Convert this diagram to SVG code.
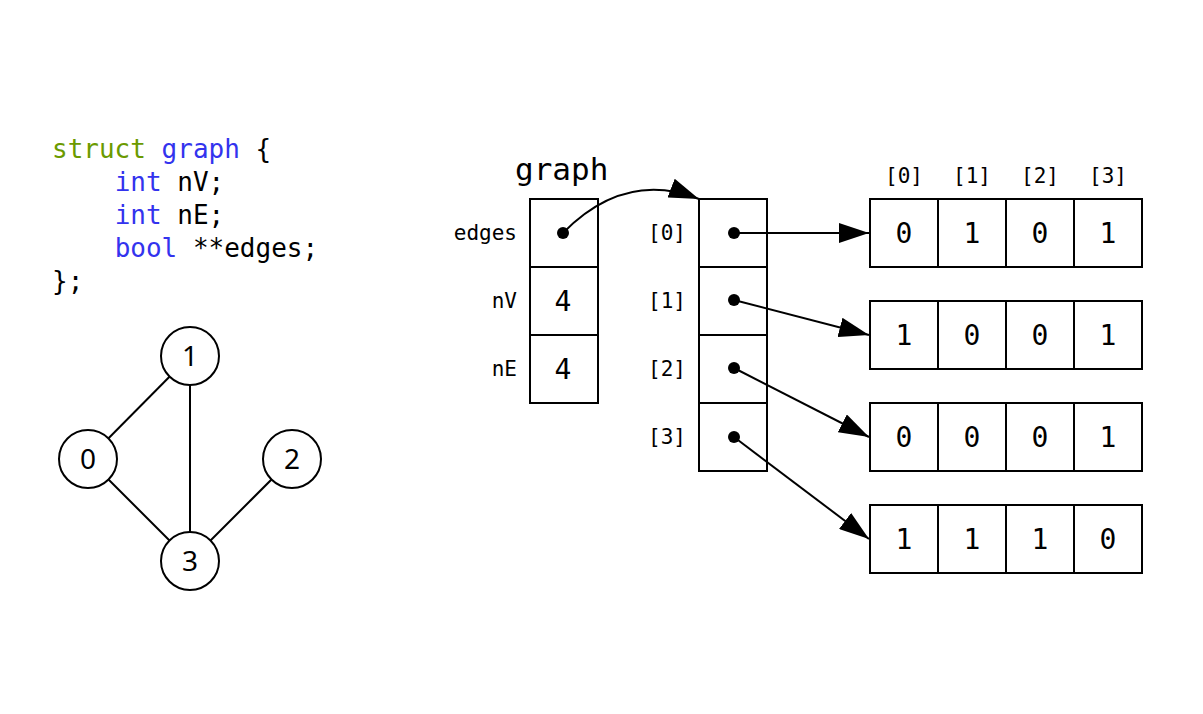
<svg xmlns="http://www.w3.org/2000/svg" width="1203" height="714" viewBox="0 0 1203 714">
<style>
text{font-family:"DejaVu Sans Mono","Liberation Mono",monospace;fill:#000}
.code{font-size:26px}
.kw1{fill:#6b9a00}.kw2{fill:#3333ee}
.lbl{font-size:21px;text-anchor:end}
.idx{font-size:21px;text-anchor:middle}
.val{font-size:28px;text-anchor:middle}
.cell{fill:#fff;stroke:#000;stroke-width:2}
.edge{stroke:#000;stroke-width:2;fill:none}
.node{fill:#fff;stroke:#000;stroke-width:2}
.nl{font-family:"Noto Sans","DejaVu Sans",sans-serif;font-size:28px;text-anchor:middle}
</style>
<defs><marker id="a2" viewBox="0 0 30 20" refX="30" refY="10" markerWidth="30" markerHeight="20" markerUnits="userSpaceOnUse" orient="auto"><path d="M0,0L30,10L0,20z"/></marker></defs>
<g id="code" class="code">
<text x="52" y="158"><tspan class="kw1">struct</tspan> <tspan class="kw2">graph</tspan> {</text>
<text x="52" y="191" xml:space="preserve">    <tspan class="kw2">int</tspan> nV;</text>
<text x="52" y="224" xml:space="preserve">    <tspan class="kw2">int</tspan> nE;</text>
<text x="52" y="257" xml:space="preserve">    <tspan class="kw2">bool</tspan> **edges;</text>
<text x="52" y="290">};</text>
</g>
<g id="g-edges">
<line class="edge" x1="190" y1="356" x2="88" y2="459"/><line class="edge" x1="190" y1="356" x2="190" y2="561"/>
<line class="edge" x1="88" y1="459" x2="190" y2="561"/><line class="edge" x1="292" y1="459" x2="190" y2="561"/>
</g>
<g id="n1"><circle class="node" cx="190" cy="356" r="29"/><text class="nl" x="190" y="366">1</text></g>
<g id="n0"><circle class="node" cx="88" cy="459" r="29"/><text class="nl" x="88" y="469">0</text></g>
<g id="n2"><circle class="node" cx="292" cy="459" r="29"/><text class="nl" x="292" y="469">2</text></g>
<g id="n3"><circle class="node" cx="190" cy="561" r="29"/><text class="nl" x="190" y="571">3</text></g>
<g id="struct">
<text x="515" y="180" style="font-size:31px">graph</text>
<rect class="cell" x="530" y="199" width="68" height="68"/><rect class="cell" x="530" y="267" width="68" height="68"/><rect class="cell" x="530" y="335" width="68" height="68"/>
<text class="lbl" x="517" y="240">edges</text><text class="lbl" x="517" y="308">nV</text><text class="lbl" x="517" y="376">nE</text>
<circle cx="563" cy="233" r="6"/>
<text class="val" x="563" y="311">4</text><text class="val" x="563" y="379">4</text>
</g>
<g id="ptrs">
<rect class="cell" x="699" y="199" width="68" height="68"/><rect class="cell" x="699" y="267" width="68" height="68"/><rect class="cell" x="699" y="335" width="68" height="68"/><rect class="cell" x="699" y="403" width="68" height="68"/>
<text class="lbl" x="686" y="240">[0]</text><text class="lbl" x="686" y="308">[1]</text><text class="lbl" x="686" y="376">[2]</text><text class="lbl" x="686" y="444">[3]</text>
<circle cx="734" cy="233" r="6"/><circle cx="734" cy="300" r="6"/><circle cx="734" cy="368" r="6"/><circle cx="734" cy="437" r="6"/>
</g>
<g id="cols">
<text class="idx" x="904" y="183">[0]</text><text class="idx" x="972" y="183">[1]</text><text class="idx" x="1040" y="183">[2]</text><text class="idx" x="1108" y="183">[3]</text>
</g>
<g id="row0"><rect class="cell" x="870" y="199" width="68" height="68"/><rect class="cell" x="938" y="199" width="68" height="68"/><rect class="cell" x="1006" y="199" width="68" height="68"/><rect class="cell" x="1074" y="199" width="68" height="68"/>
<text class="val" x="904" y="243">0</text><text class="val" x="972" y="243">1</text><text class="val" x="1040" y="243">0</text><text class="val" x="1108" y="243">1</text></g>
<g id="row1"><rect class="cell" x="870" y="301" width="68" height="68"/><rect class="cell" x="938" y="301" width="68" height="68"/><rect class="cell" x="1006" y="301" width="68" height="68"/><rect class="cell" x="1074" y="301" width="68" height="68"/>
<text class="val" x="904" y="345">1</text><text class="val" x="972" y="345">0</text><text class="val" x="1040" y="345">0</text><text class="val" x="1108" y="345">1</text></g>
<g id="row2"><rect class="cell" x="870" y="403" width="68" height="68"/><rect class="cell" x="938" y="403" width="68" height="68"/><rect class="cell" x="1006" y="403" width="68" height="68"/><rect class="cell" x="1074" y="403" width="68" height="68"/>
<text class="val" x="904" y="447">0</text><text class="val" x="972" y="447">0</text><text class="val" x="1040" y="447">0</text><text class="val" x="1108" y="447">1</text></g>
<g id="row3"><rect class="cell" x="870" y="505" width="68" height="68"/><rect class="cell" x="938" y="505" width="68" height="68"/><rect class="cell" x="1006" y="505" width="68" height="68"/><rect class="cell" x="1074" y="505" width="68" height="68"/>
<text class="val" x="904" y="549">1</text><text class="val" x="972" y="549">1</text><text class="val" x="1040" y="549">1</text><text class="val" x="1108" y="549">0</text></g>
<g id="connectors" class="edge">
<path class="edge" d="M563,233 Q625,170 699,199" marker-end="url(#a2)"/>
<path class="edge" d="M734,233 L869,233" marker-end="url(#a2)"/>
<path class="edge" d="M734,300 L869,335" marker-end="url(#a2)"/>
<path class="edge" d="M734,368 L869,437" marker-end="url(#a2)"/>
<path class="edge" d="M734,437 L869,539" marker-end="url(#a2)"/>
</g>
</svg>
